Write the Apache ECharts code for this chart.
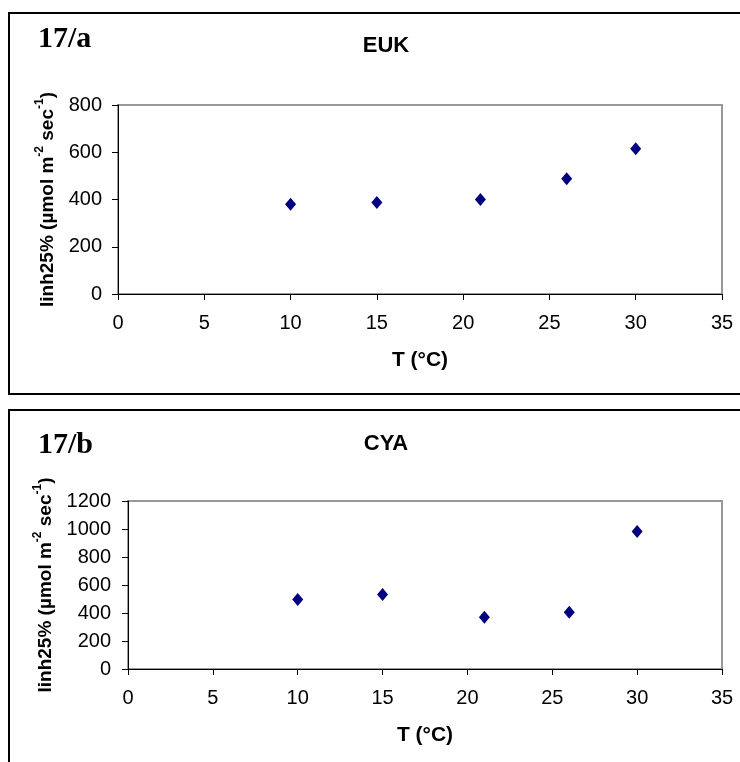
<!DOCTYPE html>
<html>
<head>
<meta charset="utf-8">
<script src="https://cdn.jsdelivr.net/npm/echarts@6/dist/echarts.min.js"></script>
<style>
  html, body { margin: 0; padding: 0; background: #fff; }
  #chart { width: 740px; height: 762px; }
</style>
</head>
<body>
<div id="chart"></div>
<script>
// Temperature (°C) at which each culture was measured
const tempEUK = [10, 15, 21, 26, 30];
const tempCYA = [10, 15, 21, 26, 30];
// Iinh25% values (µmol m-2 sec-1)
const iinhEUK = [380, 387, 400, 488, 615];
const iinhCYA = [497, 532, 370, 406, 983];
// Axis ranges / tick steps
const xTicks = { min: 0, max: 35, step: 5 };
const yTicksEUK = { min: 0, max: 800, step: 200 };
const yTicksCYA = { min: 0, max: 1200, step: 200 };
// Panel labels and titles
const panelLabels = ['17/a', '17/b'];
const panelTitles = ['EUK', 'CYA'];

const FONT = '"Liberation Sans", Arial, sans-serif';
const yName = '{a|Iinh25% (µmol m}{s|-2}{a| sec}{s|-1}{a|)}';
const yNameStyle = {
  fontFamily: FONT, fontWeight: 'bold', fontSize: 19, color: '#000',
  rich: {
    a: { fontFamily: FONT, fontWeight: 'bold', fontSize: 19, color: '#000', lineHeight: 24, verticalAlign: 'bottom' },
    s: { fontFamily: FONT, fontWeight: 'bold', fontSize: 12, color: '#000', lineHeight: 24, verticalAlign: 'top' }
  }
};

function zip(xs, ys) { return xs.map((x, i) => [x, ys[i]]); }

function xAxis(gridIndex) {
  return {
    type: 'value', gridIndex,
    min: xTicks.min, max: xTicks.max, interval: xTicks.step,
    name: 'T (°C)', nameLocation: 'middle', nameGap: 56,
    nameTextStyle: { fontFamily: FONT, fontWeight: 'bold', fontSize: 21, color: '#000' },
    axisLine: { onZero: false, lineStyle: { color: '#000', width: 1 } },
    axisTick: { show: true, length: 6, lineStyle: { color: '#000' } },
    axisLabel: { fontFamily: FONT, fontSize: 20, color: '#000', margin: 19 },
    splitLine: { show: false }
  };
}
function yAxis(gridIndex, t, margin, gap) {
  return {
    type: 'value', gridIndex,
    min: t.min, max: t.max, interval: t.step,
    name: yName, nameLocation: 'middle', nameGap: gap, nameRotate: 90,
    nameTextStyle: yNameStyle,
    axisLine: { show: true, lineStyle: { color: '#000', width: 1 } },
    axisTick: { show: true, length: 6, lineStyle: { color: '#000' } },
    axisLabel: { fontFamily: FONT, fontSize: 20, color: '#000', margin, formatter: v => String(v) },
    splitLine: { show: false }
  };
}
function scatter(i, data) {
  return {
    type: 'scatter', xAxisIndex: i, yAxisIndex: i, data,
    symbol: 'diamond', symbolSize: [11, 13],
    itemStyle: { color: '#000080', opacity: 1 }
  };
}

const chart = echarts.init(document.getElementById('chart'), null, { renderer: 'canvas' });
chart.setOption({
  backgroundColor: '#fff',
  animation: false,
  grid: [
    { left: 118, right: 18, top: 105, height: 189, show: true, borderColor: '#999', borderWidth: 2, containLabel: false },
    { left: 128, right: 18, top: 501, height: 168, show: true, borderColor: '#999', borderWidth: 2, containLabel: false }
  ],
  title: [
    { text: panelTitles[0], left: 381, top: 30, textAlign: 'center',
      textStyle: { fontFamily: FONT, fontWeight: 'bold', fontSize: 22, color: '#000' } },
    { text: panelTitles[1], left: 381, top: 428, textAlign: 'center',
      textStyle: { fontFamily: FONT, fontWeight: 'bold', fontSize: 22, color: '#000' } },
    { text: panelLabels[0], left: 33, top: 19,
      textStyle: { fontFamily: '"Liberation Serif", "Times New Roman", serif', fontWeight: 'bold', fontSize: 30, color: '#000' } },
    { text: panelLabels[1], left: 33, top: 425,
      textStyle: { fontFamily: '"Liberation Serif", "Times New Roman", serif', fontWeight: 'bold', fontSize: 30, color: '#000' } }
  ],
  graphic: [
    { type: 'rect', z: -1, shape: { x: 9, y: 13, width: 760, height: 381 },
      style: { fill: null, stroke: '#000', lineWidth: 2 } },
    { type: 'rect', z: -1, shape: { x: 9, y: 410, width: 760, height: 400 },
      style: { fill: null, stroke: '#000', lineWidth: 2 } }
  ],
  xAxis: [xAxis(0), xAxis(1)],
  yAxis: [yAxis(0, yTicksEUK, 16, 60), yAxis(1, yTicksCYA, 17, 70)],
  series: [scatter(0, zip(tempEUK, iinhEUK)), scatter(1, zip(tempCYA, iinhCYA))]
});
</script>
</body>
</html>
